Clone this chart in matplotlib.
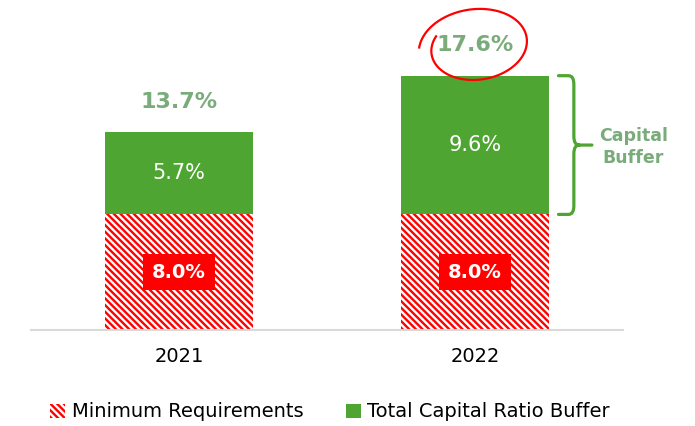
import numpy as np
import matplotlib.pyplot as plt
from matplotlib.patches import Patch
from matplotlib.path import Path
from matplotlib.patches import PathPatch
from matplotlib.transforms import IdentityTransform

years = ['2021', '2022']
min_req = [8.0, 8.0]
buffer = [5.7, 9.6]
total = [13.7, 17.6]

RED = '#FF0000'
GREEN = '#4EA532'
LABEL_GREEN = '#7AAB7A'
HATCH = '\\' * 5

plt.rcParams['font.family'] = ['DejaVu Sans']
plt.rcParams['hatch.linewidth'] = 1.7


def draw_chart():
    fig = plt.figure(figsize=(6.95, 4.26), dpi=100)
    ax = fig.add_axes([31 / 695, 96 / 426, 592 / 695, 330 / 426])
    x = np.arange(len(years))

    # stacked bars
    ax.bar(x, min_req, width=0.5, facecolor='white', edgecolor=RED, hatch=HATCH, linewidth=0)
    ax.bar(x, buffer, bottom=min_req, width=0.5, color=GREEN, linewidth=0)

    ax.set_xlim(-0.5, 1.5)
    ax.set_ylim(0, 22.84)

    for i in x:
        ax.text(i, min_req[i] / 2, f"{min_req[i]:.1f}%", ha='center', va='center', fontsize=14,
                fontweight='bold', color='white',
                bbox=dict(boxstyle='square,pad=0.45', facecolor=RED, edgecolor='none'))
        ax.text(i, min_req[i] + buffer[i] / 2, f"{buffer[i]:.1f}%", ha='center', va='center',
                fontsize=15, color='white')
        ax.text(i, total[i] + 2.1, f"{total[i]:.1f}%", ha='center', va='center', fontsize=16,
                fontweight='bold', color=LABEL_GREEN)

    # spines / ticks
    for s in ['top', 'right', 'left']:
        ax.spines[s].set_visible(False)
    ax.spines['bottom'].set_color('#D9D9D9')
    ax.spines['bottom'].set_linewidth(1.5)
    ax.set_yticks([])
    ax.set_xticks(x)
    ax.set_xticklabels(years, fontsize=14)
    ax.tick_params(axis='x', length=0, pad=12)

    # bracket next to the 2022 buffer
    x0, x1, x2 = 1.282, 1.334, 1.395
    top, bot = total[1], min_req[1]
    mid = (top + bot) / 2
    r = 0.6
    dx = 0.018
    verts = [(x0, top), (x1 - dx, top), (x1, top), (x1, top - r),
             (x1, mid + r), (x1, mid), (x1 + dx, mid), (x2, mid),
             (x1 + dx, mid), (x1, mid), (x1, mid - r),
             (x1, bot + r), (x1, bot), (x1 - dx, bot), (x0, bot)]
    codes = [Path.MOVETO, Path.LINETO, Path.CURVE3, Path.CURVE3,
             Path.LINETO, Path.CURVE3, Path.CURVE3, Path.LINETO,
             Path.MOVETO, Path.CURVE3, Path.CURVE3,
             Path.LINETO, Path.CURVE3, Path.CURVE3, Path.LINETO]
    ax.add_patch(PathPatch(Path(verts, codes), facecolor='none', edgecolor=GREEN,
                           linewidth=2.3, clip_on=False, capstyle='round'))
    ax.text(1.535, mid - 0.15, 'Capital\nBuffer', ha='center', va='center', fontsize=12.5,
            fontweight='bold', color=LABEL_GREEN, linespacing=1.25)

    # hand-drawn circle around the 2022 total
    cx, cy = ax.transData.transform((1, total[1] + 2.1))
    t = np.linspace(np.radians(150), np.radians(150 + 380), 200)
    rx = 44 + 2 * (t - t[0])
    ry = 31 + 1.2 * (t - t[0])
    ang = np.radians(8)
    ex = rx * np.cos(t)
    ey = ry * np.sin(t)
    px = cx + 1 + ex * np.cos(ang) - ey * np.sin(ang)
    py = cy - 1 + ex * np.sin(ang) + ey * np.cos(ang)
    ax.plot(px, py, color=RED, linewidth=1.6, transform=IdentityTransform(), clip_on=False)

    handles = [Patch(facecolor='white', edgecolor=RED, hatch=HATCH, linewidth=0),
               Patch(facecolor=GREEN, edgecolor='none')]
    fig.legend(handles, ['Minimum Requirements', 'Total Capital Ratio Buffer'],
               loc='center', bbox_to_anchor=(0.475, 0.033), ncol=2, frameon=False,
               fontsize=14, handlelength=0.75, handleheight=0.75, handletextpad=0.35,
               columnspacing=2.2)

    fig.savefig('out.png', dpi=100)


if __name__ == '__main__':
    draw_chart()
